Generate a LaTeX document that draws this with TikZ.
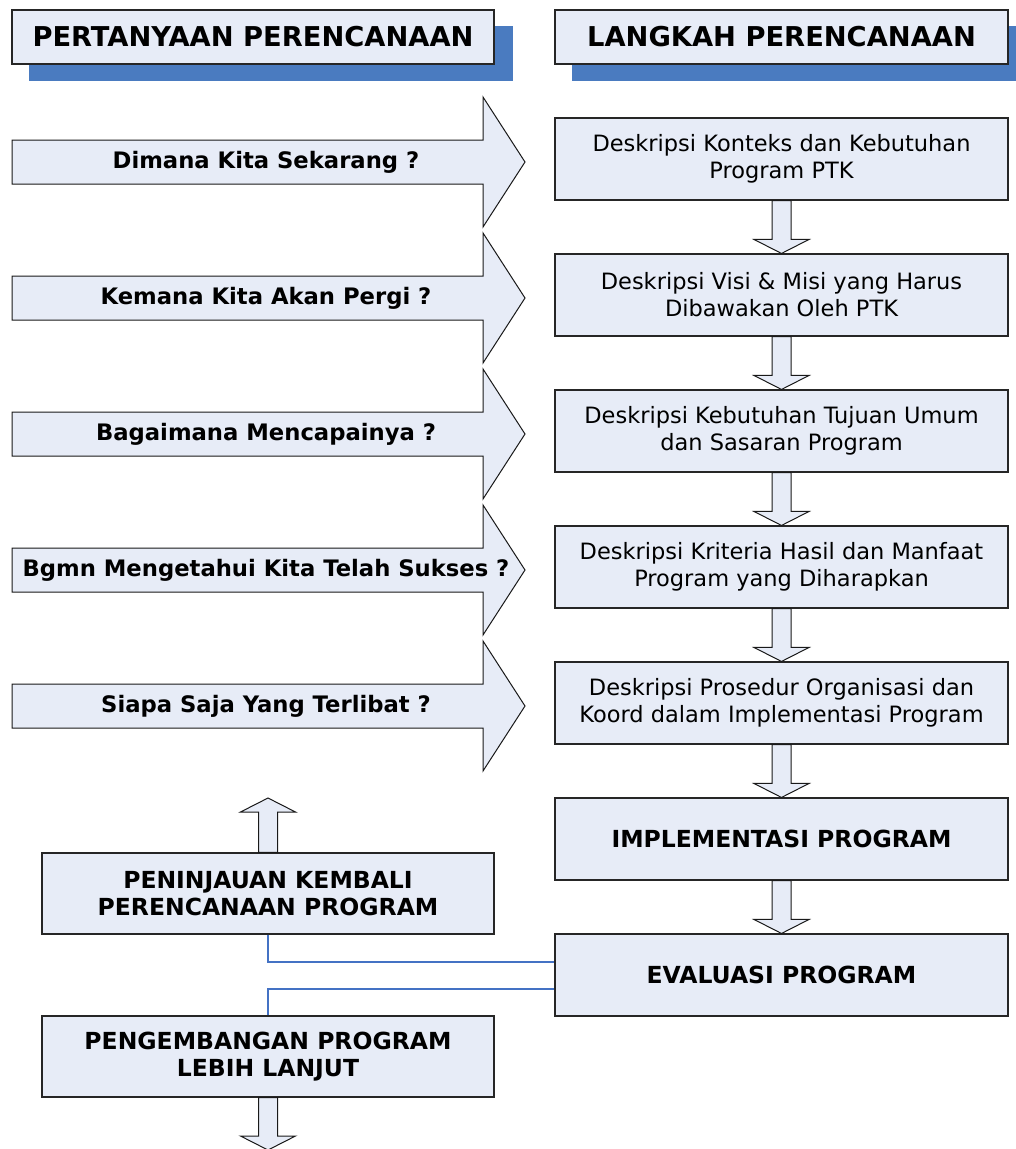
\documentclass[tikz,border=0pt]{standalone}
\usepackage{fontspec}
\setmainfont{DejaVu Sans}
\usetikzlibrary{calc}
\definecolor{boxfill}{RGB}{231,236,247}
\definecolor{shadowblue}{RGB}{74,123,192}
\definecolor{linkblue}{RGB}{68,114,196}
\newcommand\blockdown[2]{\draw[barrow] let \p1=(#1), \p2=(#2) in
  (\x1-9.5pt,\y1) -- (\x1+9.5pt,\y1) -- (\x1+9.5pt,\y2+14pt) -- (\x1+27.5pt,\y2+14pt)
  -- (\x1,\y2) -- (\x1-27.5pt,\y2+14pt) -- (\x1-9.5pt,\y2+14pt) -- cycle;}
\newcommand\blockup[2]{\draw[barrow] let \p1=(#1), \p2=(#2) in
  (\x1-9.5pt,\y1) -- (\x1-9.5pt,\y2-14pt) -- (\x1-27.5pt,\y2-14pt) -- (\x1,\y2)
  -- (\x1+27.5pt,\y2-14pt) -- (\x1+9.5pt,\y2-14pt) -- (\x1+9.5pt,\y1) -- cycle;}
\begin{document}
\begin{tikzpicture}[x=1pt,y=-1pt,
  box/.style={draw=black!85, line width=1.1pt, fill=boxfill, align=center, inner sep=0pt},
  rbox/.style={box, minimum width=453pt, minimum height=82pt, font=\fontsize{22.5}{27}\selectfont},
  rboldbox/.style={rbox, font=\fontsize{23.5}{27}\selectfont\bfseries},
  lbox/.style={box, minimum width=452pt, minimum height=81pt, font=\fontsize{23.5}{27}\selectfont\bfseries},
  headbox/.style={box, minimum height=54pt, font=\fontsize{27.3}{32}\selectfont\bfseries},
  shadowbox/.style={fill=shadowblue, draw=none},
  qtext/.style={font=\fontsize{22.7}{27}\selectfont\bfseries, inner sep=0pt},
  qarrow/.style={draw=black!90, line width=1pt, fill=boxfill, line join=miter},
  barrow/.style={draw=black!90, line width=1pt, fill=boxfill},
  link/.style={draw=linkblue, line width=1.7pt}
]
\useasboundingbox (0,0) rectangle (1016,1149);

% header shadows
\fill[shadowbox] (29,26) rectangle (513,81);
\fill[shadowbox] (572,26) rectangle (1016,81);
% headers
\node[headbox, minimum width=482pt] (hq) at (253,37) {PERTANYAAN PERENCANAAN};
\node[headbox, minimum width=453pt] (hl) at (781.5,37) {LANGKAH PERENCANAAN};

% right column
\node[rbox] (r1) at (781.5,159) {Deskripsi Konteks dan Kebutuhan\\Program PTK};
\node[rbox] (r2) at (781.5,295) {Deskripsi Visi \& Misi yang Harus\\Dibawakan Oleh PTK};
\node[rbox] (r3) at (781.5,431) {Deskripsi Kebutuhan Tujuan Umum\\dan Sasaran Program};
\node[rbox] (r4) at (781.5,567) {Deskripsi Kriteria Hasil dan Manfaat\\Program yang Diharapkan};
\node[rbox] (r5) at (781.5,703) {Deskripsi Prosedur Organisasi dan\\Koord dalam Implementasi Program};
\node[rboldbox] (r6) at (781.5,839) {IMPLEMENTASI PROGRAM};
\node[rboldbox] (r7) at (781.5,975) {EVALUASI PROGRAM};

\blockdown{r1.south}{r2.north}
\blockdown{r2.south}{r3.north}
\blockdown{r3.south}{r4.north}
\blockdown{r4.south}{r5.north}
\blockdown{r5.south}{r6.north}
\blockdown{r6.south}{r7.north}

% left question arrows
\foreach \y/\t [count=\i] in {162/Dimana Kita Sekarang ?,298/Kemana Kita Akan Pergi ?,434/Bagaimana Mencapainya ?,570/Bgmn Mengetahui Kita Telah Sukses ?,706/Siapa Saja Yang Terlibat ?}{
  \draw[qarrow] (12,\y-22) -- (483,\y-22) -- (483,\y-65) -- (525,\y) -- (483,\y+65) -- (483,\y+22) -- (12,\y+22) -- cycle;
  \node[qtext] (q\i) at (266,\y) {\t};
}

% left bottom boxes
\node[lbox] (p1) at (268,893.5) {PENINJAUAN KEMBALI\\PERENCANAAN PROGRAM};
\node[lbox] (p2) at (268,1056.5) {PENGEMBANGAN PROGRAM\\LEBIH LANJUT};
\coordinate (uptip) at (268,798);
\coordinate (downtip) at (268,1150);
\blockup{p1.north}{uptip}
\blockdown{p2.south}{downtip}

% blue links
\draw[link] (p1.south) |- ([yshift=13pt]r7.west);
\draw[link] ([yshift=-14pt]r7.west) -| (p2.north);
\end{tikzpicture}
\end{document}
